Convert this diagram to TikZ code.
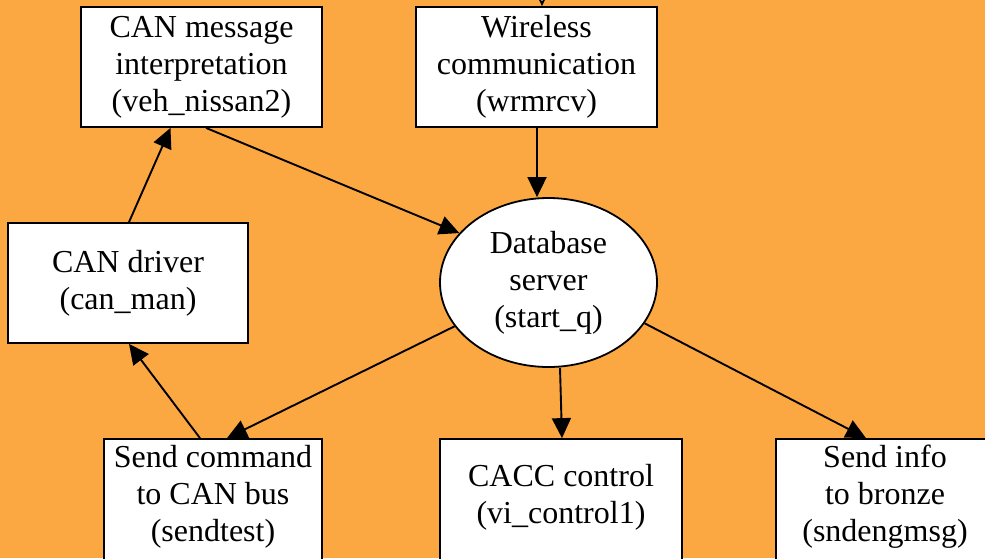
\documentclass[tikz,border=0pt]{standalone}
\usepackage{fontspec}
\setmainfont{Liberation Serif}
\usetikzlibrary{arrows.meta,shapes.geometric}
\definecolor{bg}{RGB}{252,168,66}
\begin{document}
\begin{tikzpicture}[x=1pt,y=-1pt,
 box/.style={draw=black, line width=1.8pt, fill=white, rectangle, inner sep=0pt},
 oval/.style={draw=black, line width=1.8pt, fill=white, ellipse, inner sep=0pt},
 txt/.style={font=\fontsize{32}{37}\selectfont, align=center, inner sep=0pt},
 conn/.style={line width=1.9pt, -{Triangle[length=20pt,width=19pt]}},
 openconn/.style={line width=1.9pt, -{Triangle[open,fill=white,length=20pt,width=19pt]}},
]
\useasboundingbox (0,0) rectangle (985,558);
\clip (0,0) rectangle (985,558);
\fill[bg] (0,0) rectangle (985,558);

\node[box, txt, minimum width=241pt, minimum height=120pt] (cm) at (201.5,67) {CAN message\\interpretation\\(veh\_nissan2)};
\node[box, txt, minimum width=241pt, minimum height=120pt] (wr) at (536.5,67) {Wireless\\communication\\(wrmrcv)};
\node[box, txt, minimum width=240pt, minimum height=120pt] (cd) at (128,283) {CAN driver\\(can\_man)};
\node[oval, txt, minimum width=217pt, minimum height=169pt] (db) at (548.5,282.5) {Database\\server\\(start\_q)};

\node[box, minimum width=218pt, minimum height=136pt] (sc) at (213,507) {};
\node[txt] (sct) at (213,497) {Send command\\to CAN bus\\(sendtest)};
\node[box, minimum width=242pt, minimum height=136pt] (cc) at (561,507) {};
\node[txt] (cct) at (561,497) {CACC control\\(vi\_control1)};
\node[box, minimum width=218pt, minimum height=136pt] (si) at (885,507) {};
\node[txt] (sit) at (885,497) {Send info\\to bronze\\(sndengmsg)};

\coordinate (ext) at (542,-40);
\draw[openconn] (ext) -- ([xshift=5.5pt]wr.north);

\draw[conn] ([xshift=1pt]cd.north) -- ([xshift=-31pt]cm.south);
\draw[conn] ([xshift=-13pt]sc.north) -- ([xshift=1pt]cd.south);
\draw[conn] ([xshift=4.5pt]cm.south) -- (db.151.6);
\draw[conn] ([xshift=0.5pt]wr.south) -- ([xshift=-11.5pt]db.north);
\draw[conn] (db.205.5) -- ([xshift=14pt]sc.north);
\draw[conn] ([xshift=11.5pt]db.south) -- ([xshift=1pt]cc.north);
\draw[conn] (db.337) -- ([xshift=-19pt]si.north);
\end{tikzpicture}
\end{document}
